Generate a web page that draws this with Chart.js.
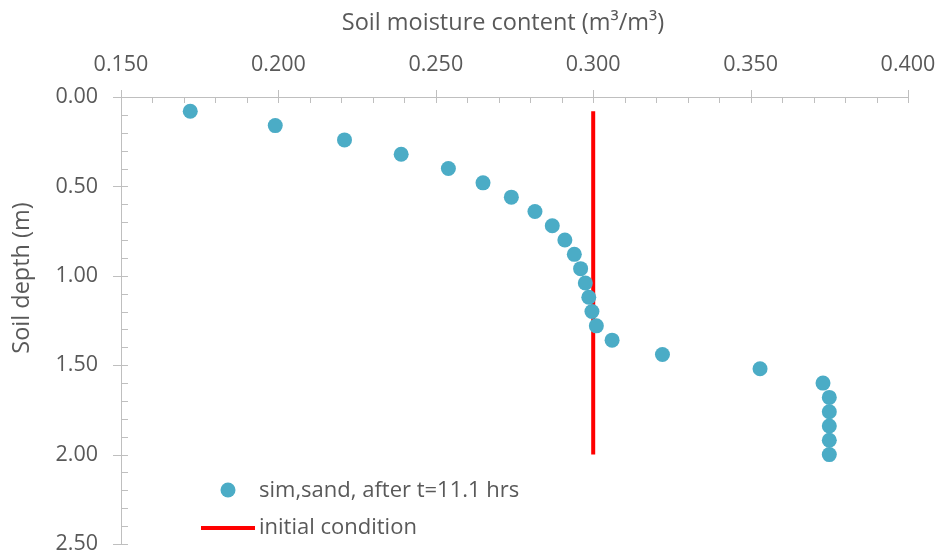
<!DOCTYPE html>
<html>
<head>
<meta charset="utf-8">
<script src="https://cdn.jsdelivr.net/npm/chart.js@4.4.1/dist/chart.umd.min.js"></script>
<style>
html,body{margin:0;padding:0;background:#ffffff;}
#wrap{width:938px;height:553px;}
</style>
</head>
<body>
<div id="wrap"><canvas id="c" width="938" height="553"></canvas></div>
<script>
// ---- data ----
const depths = [0.08,0.16,0.24,0.32,0.40,0.48,0.56,0.64,0.72,0.80,0.88,0.96,1.04,1.12,1.20,1.28,1.36,1.44,1.52,1.60,1.68,1.76,1.84,1.92,2.00];
const simMoisture = [0.172,0.199,0.221,0.239,0.254,0.265,0.274,0.2815,0.287,0.291,0.294,0.296,0.2975,0.2986,0.2996,0.301,0.306,0.322,0.353,0.373,0.375,0.375,0.375,0.375,0.375];
const initDepths = [0.08,0.16,0.24,0.32,0.40,0.48,0.56,0.64,0.72,0.80,0.88,0.96,1.04,1.12,1.20,1.28,1.36,1.44,1.52,1.60,1.68,1.76,1.84,1.92,2.00];
const initMoisture = [0.300,0.300,0.300,0.300,0.300,0.300,0.300,0.300,0.300,0.300,0.300,0.300,0.300,0.300,0.300,0.300,0.300,0.300,0.300,0.300,0.300,0.300,0.300,0.300,0.300];
const xTickValues = [0.15,0.20,0.25,0.30,0.35,0.40];
const xTickLabels = ['0.150','0.200','0.250','0.300','0.350','0.400'];
const yTickValues = [0,0.5,1.0,1.5,2.0,2.5];
const yTickLabels = ['0.00','0.50','1.00','1.50','2.00','2.50'];
const seriesNames = ['sim,sand, after t=11.1 hrs','initial condition'];
const xTitle = 'Soil moisture content (m\u00B3/m\u00B3)';
const yTitle = 'Soil depth (m)';

// ---- styling ----
const FONT = "'Open Sans', 'DejaVu Sans', sans-serif";
const TEXT = '#595959';
const AXIS = '#BFBFBF';

const simPoints = depths.map((d,i)=>({x:simMoisture[i], y:d}));
const initPoints = initDepths.map((d,i)=>({x:initMoisture[i], y:d}));

const decor = {
  id:'decor',
  beforeDatasetsDraw(chart){
    const {ctx, scales:{x,y}, chartArea:a} = chart;
    ctx.save();
    ctx.strokeStyle = AXIS; ctx.lineWidth = 1;
    ctx.beginPath();
    for (let i=0;i<=25;i++){
      const v = 0.15 + i*0.01;
      const px = Math.round(x.getPixelForValue(v))+0.5;
      if (i%5===0){ ctx.moveTo(px, a.top-7); ctx.lineTo(px, a.top+6); }
      else { ctx.moveTo(px, a.top); ctx.lineTo(px, a.top+6); }
    }
    for (let i=0;i<=25;i++){
      const v = i*0.1;
      const py = Math.round(y.getPixelForValue(v))+0.5;
      if (i%5===0){ ctx.moveTo(a.left-8, py); ctx.lineTo(a.left+7, py); }
      else { ctx.moveTo(a.left, py); ctx.lineTo(a.left+7, py); }
    }
    ctx.stroke();
    ctx.restore();
  },
  afterDraw(chart){
    const ctx = chart.ctx;
    const ds = chart.data.datasets;
    // x axis title
    ctx.save();
    ctx.font = '23.5px ' + FONT;
    ctx.fillStyle = TEXT;
    ctx.textAlign = 'center';
    ctx.textBaseline = 'middle';
    ctx.fillText(xTitle, 503, 23);
    ctx.restore();

    // y axis title
    ctx.save();
    ctx.font = '23.5px ' + FONT;
    ctx.fillStyle = TEXT;
    ctx.textAlign = 'center';
    ctx.textBaseline = 'middle';
    ctx.translate(22, 278);
    ctx.rotate(-Math.PI/2);
    ctx.fillText(yTitle, 0, 0);
    ctx.restore();

    // legend
    ctx.save();
    ctx.font = '22px ' + FONT;
    ctx.textAlign = 'left';
    ctx.textBaseline = 'middle';
    ctx.beginPath();
    ctx.arc(228, 490, 7.5, 0, Math.PI*2);
    ctx.fillStyle = ds[0].backgroundColor;
    ctx.fill();
    ctx.fillStyle = TEXT;
    ctx.fillText(ds[0].label, 259, 491);
    ctx.beginPath();
    ctx.moveTo(201, 528); ctx.lineTo(255, 528);
    ctx.strokeStyle = ds[1].borderColor;
    ctx.lineWidth = 4;
    ctx.stroke();
    ctx.fillText(ds[1].label, 259, 528);
    ctx.restore();
  }
};

new Chart(document.getElementById('c'), {
  type: 'scatter',
  data: {
    datasets: [
      {
        label: seriesNames[0],
        data: simPoints,
        backgroundColor: '#4BACC6',
        borderColor: '#4BACC6',
        borderWidth: 0,
        pointRadius: 7.5,
        pointHoverRadius: 7.5,
        showLine: false
      },
      {
        label: seriesNames[1],
        data: initPoints,
        type: 'line',
        borderColor: '#FF0000',
        backgroundColor: '#FF0000',
        borderWidth: 4,
        pointRadius: 0,
        showLine: true,
        fill: false,
        tension: 0
      }
    ]
  },
  options: {
    responsive: false,
    animation: false,
    devicePixelRatio: 1,
    layout: { padding: { left: 0, top: 0, right: 30, bottom: 9 } },
    plugins: {
      legend: { display: false },
      tooltip: { enabled: false },
      title: { display: false }
    },
    scales: {
      x: {
        type: 'linear',
        position: 'top',
        min: 0.15, max: 0.40,
        afterBuildTicks: s => { s.ticks = xTickValues.map(v => ({value: v})); },
        afterFit: s => { s.height = 97; s.paddingLeft = 0; s.paddingRight = 0; },
        ticks: {
          padding: 19,
          color: TEXT,
          font: { family: FONT, size: 21.5 },
          maxRotation: 0,
          callback: (v) => { const i = xTickValues.findIndex(t => Math.abs(t - v) < 1e-9); return i >= 0 ? xTickLabels[i] : ''; }
        },
        grid: { display: true, drawOnChartArea: false, drawTicks: false, color: AXIS },
        border: { display: true, color: AXIS, width: 1 },
        title: { display: false, text: xTitle }
      },
      y: {
        type: 'linear',
        position: 'left',
        reverse: true,
        min: 0, max: 2.5,
        afterBuildTicks: s => { s.ticks = yTickValues.map(v => ({value: v})); },
        afterFit: s => { s.width = 121; s.paddingTop = 0; s.paddingBottom = 0; },
        ticks: {
          padding: 23,
          color: TEXT,
          font: { family: FONT, size: 21.5 },
          callback: (v) => { const i = yTickValues.findIndex(t => Math.abs(t - v) < 1e-9); return i >= 0 ? yTickLabels[i] : ''; }
        },
        grid: { display: true, drawOnChartArea: false, drawTicks: false, color: AXIS },
        border: { display: true, color: AXIS, width: 1 },
        title: { display: false, text: yTitle }
      }
    }
  },
  plugins: [decor]
});
</script>
</body>
</html>
